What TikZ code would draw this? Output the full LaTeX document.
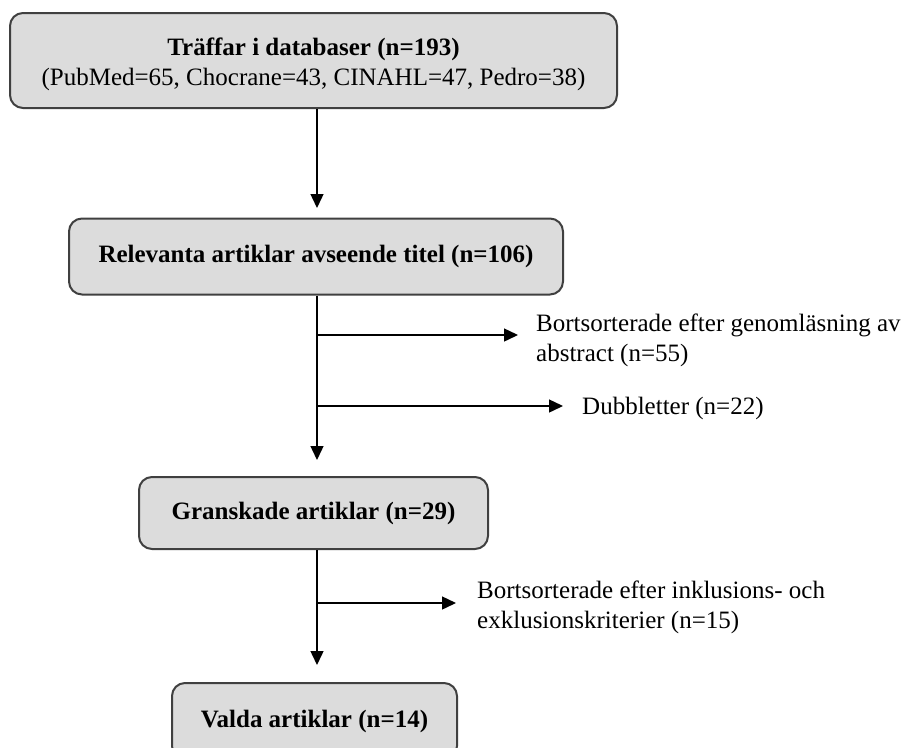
\documentclass[tikz,border=0pt]{standalone}
\usepackage{fontspec}
\setmainfont{Liberation Serif}
\usetikzlibrary{arrows.meta}
\definecolor{boxfill}{HTML}{DCDCDC}
\definecolor{boxline}{HTML}{404040}
\begin{document}
\begin{tikzpicture}[x=1pt,y=-1pt,
  box/.style={draw=boxline, line width=2pt, fill=boxfill, rounded corners=13pt, inner sep=0pt, align=center, font=\fontsize{25}{30}\selectfont},
  conn/.style={line width=1.4pt, -{Triangle[length=14pt,width=13pt]}},
  lbl/.style={anchor=west, align=left, inner sep=0pt, font=\fontsize{25}{30}\selectfont}]
\useasboundingbox (0,0) rectangle (909,747);
\clip (0,0) rectangle (909,747);
\node[box, minimum width=607pt, minimum height=95pt] (b1) at (313.5,60.5) {\rule{0pt}{26pt}\textbf{Träffar i databaser (n=193)}\\(PubMed=65, Chocrane=43, CINAHL=47, Pedro=38)};
\node[box, minimum width=494pt, minimum height=76pt] (b2) at (316,256.5) {\textbf{Relevanta artiklar avseende titel (n=106)}};
\node[box, minimum width=349pt, minimum height=72pt] (b3) at (313.5,513) {\textbf{Granskade artiklar (n=29)}};
\node[box, minimum width=285pt, minimum height=76pt] (b4) at (314.5,721) {\textbf{Valda artiklar (n=14)}};
\coordinate (t1) at (317,208);
\coordinate (t2) at (317,460);
\coordinate (t3) at (317,665);
\coordinate (j1) at (317,335);
\coordinate (e1) at (518,335);
\coordinate (j2) at (317,406);
\coordinate (e2) at (563,406);
\coordinate (j3) at (317,603);
\coordinate (e3) at (456,603);
\node[lbl] (l1) at (536,340.5) {Bortsorterade efter genomläsning av\\abstract (n=55)};
\node[lbl] (l2) at (582,408) {Dubbletter (n=22)};
\node[lbl] (l3) at (477,607.5) {Bortsorterade efter inklusions- och\\exklusionskriterier (n=15)};
\draw[conn] (b1.south -| t1) -- (t1);
\draw[conn] (b2.south -| t2) -- (t2);
\draw[conn] (b3.south -| t3) -- (t3);
\draw[conn] (j1) -- (e1);
\draw[conn] (j2) -- (e2);
\draw[conn] (j3) -- (e3);
\end{tikzpicture}
\end{document}
